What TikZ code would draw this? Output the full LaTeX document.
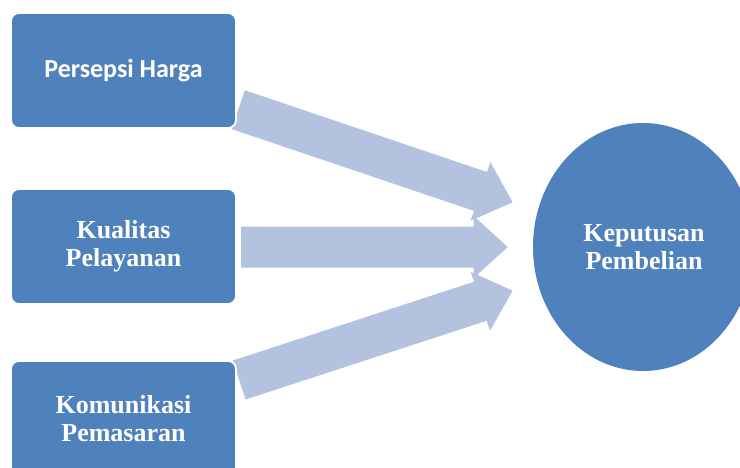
\documentclass[tikz,border=0pt]{standalone}
\usepackage{fontspec}
\setmainfont{Liberation Serif}
\newfontfamily\calfont{Carlito}
\usetikzlibrary{calc}
\definecolor{boxblue}{HTML}{4F81BD}
\definecolor{arrowblue}{HTML}{B3C2DE}
\newcommand\blockarrow[2]{%
  \path let \p1=($(#2)-(#1)$) in \pgfextra{%
    \pgfmathsetmacro\barang{atan2(\y1,\x1)}%
    \pgfmathsetmacro\barlen{veclen(\x1,\y1)}%
    \global\let\barangG\barang\global\let\barlenG\barlen};
  \fill[arrowshape, shift={(#1)}, rotate=\barangG]
    (0pt,20.5pt) -- ({\barlenG pt-34pt},20.5pt) -- ({\barlenG pt-34pt},31pt)
    -- (\barlenG pt,0pt) -- ({\barlenG pt-34pt},-31pt) -- ({\barlenG pt-34pt},-20.5pt)
    -- (0pt,-20.5pt) -- cycle;
}
\begin{document}
\begin{tikzpicture}[x=1pt,y=1pt,
  arrowshape/.style={fill=arrowblue},
  boxshape/.style={rectangle, rounded corners=8pt, fill=boxblue, draw=white, line width=1.8pt,
    minimum width=225pt, minimum height=115pt, text=white, align=center, inner sep=0pt},
  serifbold/.style={font=\bfseries\fontsize{26}{27.5}\selectfont},
  calbold/.style={font=\calfont\bfseries\fontsize{26}{30}\selectfont}]
\useasboundingbox (0,0) rectangle (740,467);
\clip (0,0) rectangle (740,467);
% arrow end points
\coordinate (t1) at (238.3,357.3);
\coordinate (h1) at (512.7,264.7);
\coordinate (t2) at (241,220);
\coordinate (h2) at (507.7,220);
\coordinate (t3) at (239.2,87);
\coordinate (h3) at (512.7,176.3);
\blockarrow{t1}{h1}
\blockarrow{t3}{h3}
\blockarrow{t2}{h2}
% boxes
\node[boxshape, calbold] (b1) at (123.5,396.5) {Persepsi Harga};
\node[boxshape, serifbold] (b2) at (123.5,220.5) {Kualitas\\Pelayanan};
\node[boxshape, serifbold] (b3) at (123.5,48.5) {Komunikasi\\Pemasaran};
% ellipse
\fill[boxblue] (643,220) ellipse [x radius=110, y radius=124];
\node[serifbold, text=white, align=center] (kp) at (644,220) {Keputusan\\Pembelian};
\end{tikzpicture}
\end{document}
